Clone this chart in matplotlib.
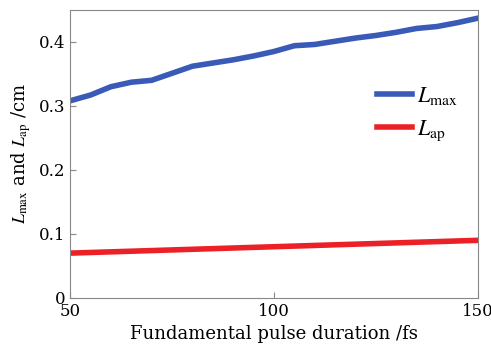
import numpy as np
import matplotlib
matplotlib.use("Agg")
import matplotlib.pyplot as plt

plt.rcParams['font.family'] = 'DejaVu Serif'
plt.rcParams['mathtext.fontset'] = 'stix'

# pulse duration (fs)
duration = [50, 55, 60, 65, 70, 75, 80, 85, 90, 95, 100,
            105, 110, 115, 120, 125, 130, 135, 140, 145, 150]
# L_max (cm)
l_max = [0.308, 0.317, 0.330, 0.337, 0.340, 0.351, 0.362, 0.367, 0.372, 0.378, 0.385,
         0.394, 0.396, 0.401, 0.406, 0.410, 0.415, 0.421, 0.424, 0.430, 0.437]
# L_ap (cm)
l_ap = [0.070, 0.071, 0.072, 0.073, 0.074, 0.075, 0.076, 0.077, 0.078, 0.079, 0.080,
        0.081, 0.082, 0.083, 0.084, 0.085, 0.086, 0.087, 0.088, 0.089, 0.090]

fig = plt.figure(figsize=(4.91, 3.53), dpi=100)
ax = fig.add_axes([0.143, 0.156, 0.830, 0.816])

ax.plot(duration, l_max, color='#3a5ab8', lw=4, label=r'$L_{\mathrm{max}}$')
ax.plot(duration, l_ap, color='#ec2127', lw=4, label=r'$L_{\mathrm{ap}}$')

ax.set_xlim(50, 150)
ax.set_ylim(0, 0.45)
ax.set_xticks([50, 100, 150])
ax.set_yticks([0, 0.1, 0.2, 0.3, 0.4])
ax.set_yticklabels(['0', '0.1', '0.2', '0.3', '0.4'])
ax.tick_params(direction='in', labelsize=12, length=4, color='#888888')
for s in ax.spines.values():
    s.set_color('#888888')

ax.set_xlabel('Fundamental pulse duration /fs', fontsize=13)
ax.set_ylabel(r'$L_{\mathrm{max}}$ and $L_{\mathrm{ap}}$ /cm', fontsize=13)

ax.legend(loc='center right', bbox_to_anchor=(1.0, 0.64), frameon=False,
          fontsize=16, handlelength=1.6, handletextpad=0.2, labelspacing=0.5)

fig.savefig('out.png', dpi=100)
